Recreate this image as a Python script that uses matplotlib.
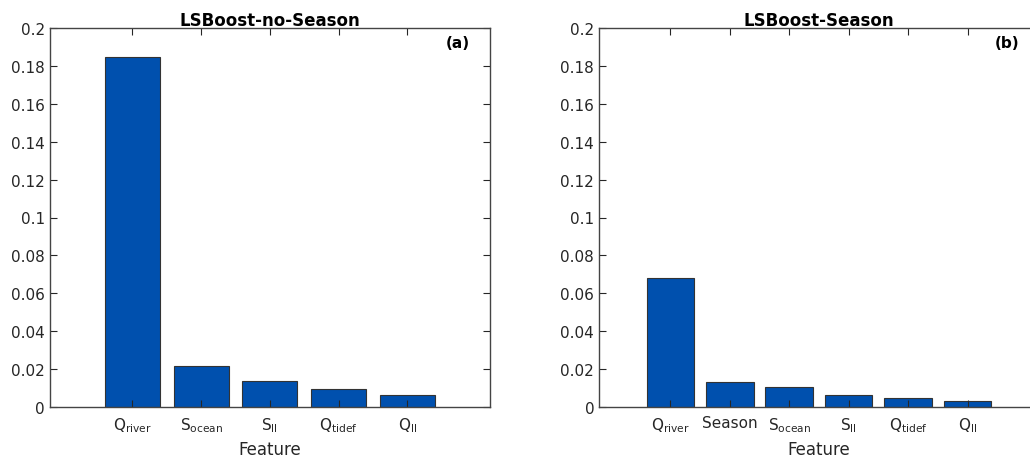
import matplotlib.pyplot as plt

# Importancia das variaveis (LSBoost)
feat_a = [r'$\mathregular{Q_{river}}$', r'$\mathregular{S_{ocean}}$', r'$\mathregular{S_{ll}}$',
          r'$\mathregular{Q_{tidef}}$', r'$\mathregular{Q_{ll}}$']
imp_a = [0.1847, 0.0218, 0.0137, 0.0093, 0.0065]

feat_b = [r'$\mathregular{Q_{river}}$', 'Season', r'$\mathregular{S_{ocean}}$', r'$\mathregular{S_{ll}}$',
          r'$\mathregular{Q_{tidef}}$', r'$\mathregular{Q_{ll}}$']
imp_b = [0.0681, 0.0134, 0.0104, 0.0065, 0.0047, 0.0033]

cor = '#0050AE'
cinza = '#262626'

fig = plt.figure(figsize=(10.3, 4.6), dpi=100)
ax1 = fig.add_axes([0.0485, 0.113, 0.427, 0.824])
ax2 = fig.add_axes([0.5816, 0.113, 0.427, 0.824])

for ax, nomes, vals, titulo, letra in [(ax1, feat_a, imp_a, 'LSBoost-no-Season', '(a)'),
                                       (ax2, feat_b, imp_b, 'LSBoost-Season', '(b)')]:
    pos = list(range(1, len(vals) + 1))
    ax.bar(pos, vals, width=0.8, color=cor, edgecolor='#333333', linewidth=0.8)
    ax.set_xlim(-0.2, len(vals) + 1.2)
    ax.set_ylim(0, 0.2)
    ax.set_yticks([0, 0.02, 0.04, 0.06, 0.08, 0.1, 0.12, 0.14, 0.16, 0.18, 0.2])
    ax.set_yticklabels(['0', '0.02', '0.04', '0.06', '0.08', '0.1', '0.12', '0.14', '0.16', '0.18', '0.2'])
    ax.set_xticks(pos)
    ax.set_xticklabels(nomes)
    ax.tick_params(direction='in', top=True, right=True, labelsize=11, colors=cinza,
                   length=5, width=0.8)
    ax.tick_params(axis='x', pad=6)
    for s in ax.spines.values():
        s.set_color('#444444')
        s.set_linewidth(1.0)
    ax.set_title(titulo, fontsize=12, fontweight='bold', pad=2)
    ax.set_xlabel('Feature', fontsize=12, color=cinza, labelpad=4)
    ax.text(0.927, 0.963, letra, transform=ax.transAxes, ha='center', va='center',
            fontsize=11, fontweight='bold')

plt.savefig('out.png', dpi=100)
